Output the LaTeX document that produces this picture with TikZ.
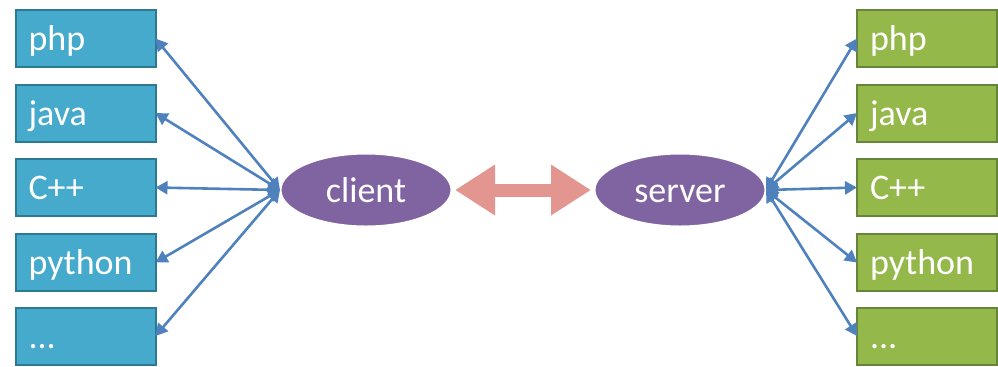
\documentclass[tikz,border=0pt]{standalone}
\usepackage{fontspec}
\setmainfont{Carlito}
\usetikzlibrary{shapes.geometric, arrows.meta}

\definecolor{langblue}{HTML}{45AACB}
\definecolor{langblueedge}{HTML}{2C7A92}
\definecolor{langgreen}{HTML}{95B84A}
\definecolor{langgreenedge}{HTML}{66843A}
\definecolor{endpurple}{HTML}{8064A2}
\definecolor{linkblue}{HTML}{4F81BD}
\definecolor{linkpink}{HTML}{E3958F}

\begin{document}
\begin{tikzpicture}[x=0.5pt, y=-0.5pt, inner sep=0, outer sep=0,
  lang/.style={rectangle, line width=1pt, text=white, font=\fontsize{18}{21}\selectfont,
    text width=57pt, inner xsep=6.5pt, align=left, minimum height=28.5pt,
    text height=12pt, text depth=0pt},
  clang/.style={lang, draw=langblueedge, fill=langblue},
  slang/.style={lang, draw=langgreenedge, fill=langgreen},
  endpoint/.style={ellipse, draw=white, line width=1.5pt, fill=endpurple, text=white,
    font=\fontsize{18}{21}\selectfont, minimum width=86pt, minimum height=37pt,
    text height=12pt, text depth=0pt},
  link/.style={draw=linkblue, line width=1.3pt,
    {Triangle[length=6pt, width=6.5pt]}-{Triangle[length=6pt, width=6.5pt]}},
  pipe/.style={draw=linkpink, line width=6.5pt, shorten <=1.5pt, shorten >=1.5pt,
    {Triangle[length=20pt, width=24pt]}-{Triangle[length=20pt, width=24pt]}}]
  \useasboundingbox (0,0) rectangle (998,366);

  % client side languages
  \node[clang] (lphp) at (85.5,38.5) {php};
  \node[clang] (ljava) at (85.5,113) {java};
  \node[clang] (lcpp) at (85.5,187.5) {C++};
  \node[clang] (lpython) at (85.5,262.5) {python};
  \node[clang] (lmore) at (85.5,336) {...};

  % server side languages
  \node[slang] (rphp) at (927,38.5) {php};
  \node[slang] (rjava) at (927,113) {java};
  \node[slang] (rcpp) at (927,187.5) {C++};
  \node[slang] (rpython) at (927,262.5) {python};
  \node[slang] (rmore) at (927,336) {...};

  \node[endpoint] (client) at (366,190) {client};
  \node[endpoint] (server) at (680,190) {server};

  \draw[pipe] (client.east) -- (server.west);

  \foreach \lang in {php, java, cpp, python, more} {
    \draw[link] (client.west) -- (l\lang.east);
    \draw[link] (server.east) -- (r\lang.west);
  }
\end{tikzpicture}
\end{document}
